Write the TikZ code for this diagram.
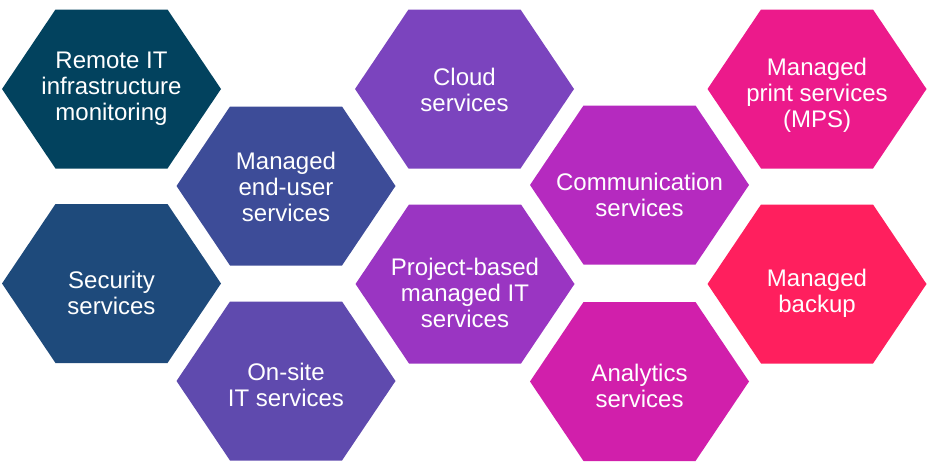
\documentclass[tikz,border=0pt]{standalone}
\usepackage{fontspec}
\setmainfont{Liberation Sans}
\usetikzlibrary{calc}
\definecolor{remoteteal}{HTML}{02425E}
\definecolor{secblue}{HTML}{1E4A7B}
\definecolor{enduserblue}{HTML}{3D4C98}
\definecolor{onsiteviolet}{HTML}{5F4AAE}
\definecolor{cloudpurple}{HTML}{7B44BE}
\definecolor{projpurple}{HTML}{9A35C2}
\definecolor{commmagenta}{HTML}{B52ABF}
\definecolor{analmagenta}{HTML}{D11FAB}
\definecolor{printpink}{HTML}{EC1A8B}
\definecolor{backupred}{HTML}{FF1F5E}

% hexagon cell: name, centre, colour, text, text drop
\newcommand{\hexcell}[5]{%
    \coordinate (#1-c) at (#2);
    \fill[#3] ($(#1-c)+(-109.5,0)$) -- ($(#1-c)+(-56,-79.5)$) -- ($(#1-c)+(56,-79.5)$)
        -- ($(#1-c)+(109.5,0)$) -- ($(#1-c)+(56,79.5)$) -- ($(#1-c)+(-56,79.5)$) -- cycle;
    \node[hexlabel] (#1) at ($(#1-c)+(0,#5)$) {#4};
}

\begin{document}
\begin{tikzpicture}[
    x=1pt, y=-1pt,
    hexlabel/.style={
        text=white, align=center, inner sep=0pt,
        font=\fontsize{24}{26}\selectfont
    },
]
\useasboundingbox (0,0) rectangle (933,474);

% === Column 1 ===
\hexcell{remote}{111.5,89}{remoteteal}{Remote IT\\infrastructure\\monitoring}{0}
\hexcell{security}{111.5,283.5}{secblue}{Security\\services}{9}

% === Column 2 ===
\hexcell{enduser}{286,186}{enduserblue}{Managed\\end-user\\services}{1}
\hexcell{onsite}{286,381}{onsiteviolet}{On-site\\IT services}{4}

% === Column 3 ===
\hexcell{cloud}{464.5,89}{cloudpurple}{Cloud\\services}{1}
\hexcell{project}{465,284}{projpurple}{Project-based\\managed IT\\services}{9}

% === Column 4 ===
\hexcell{comm}{639.5,185}{commmagenta}{Communication\\services}{10}
\hexcell{analytics}{639.5,381.5}{analmagenta}{Analytics\\services}{4}

% === Column 5 ===
\hexcell{print}{817,89}{printpink}{Managed\\print services\\(MPS)}{6}
\hexcell{backup}{817,284}{backupred}{Managed\\backup}{9}

\end{tikzpicture}
\end{document}
